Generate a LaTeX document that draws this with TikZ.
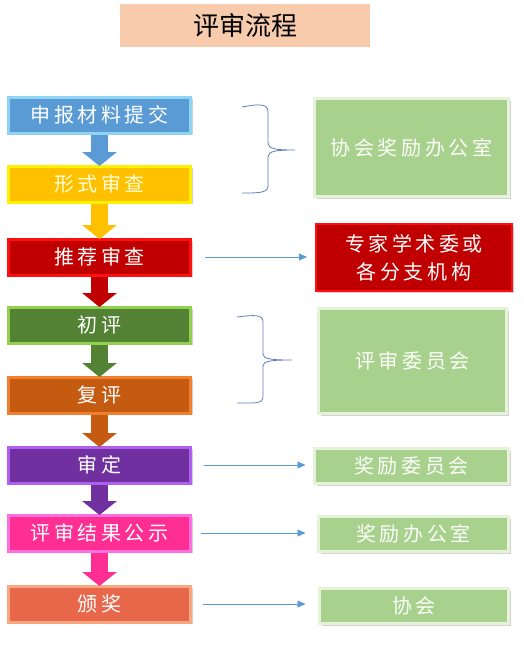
\documentclass[tikz,border=0pt]{standalone}
\usepackage{fontspec}
\newfontfamily\cjk{Noto Sans CJK SC}
\newfontfamily\cjksp{Noto Sans CJK SC}[LetterSpace=18]
\usetikzlibrary{arrows.meta,shadows,calc}
\definecolor{cTitle}{HTML}{F8CBAD}
\definecolor{cBlue}{HTML}{5B9BD5}\definecolor{cBlueB}{HTML}{8FD3F2}
\definecolor{cYel}{HTML}{FFC000}\definecolor{cYelB}{HTML}{FFF200}
\definecolor{cRed}{HTML}{C00000}\definecolor{cRedB}{HTML}{FF1010}
\definecolor{cGrn}{HTML}{548235}\definecolor{cGrnB}{HTML}{92D050}
\definecolor{cOra}{HTML}{C55A11}\definecolor{cOraB}{HTML}{F08030}
\definecolor{cPur}{HTML}{7030A0}\definecolor{cPurB}{HTML}{B060F0}
\definecolor{cPnk}{HTML}{FF2E93}\definecolor{cPnkB}{HTML}{FF70E0}
\definecolor{cCor}{HTML}{E8674A}\definecolor{cCorB}{HTML}{F8A880}
\definecolor{cLG}{HTML}{A9D18E}\definecolor{cLGB}{HTML}{E6F3DA}
\definecolor{cLine}{HTML}{5B9BD5}\definecolor{cBrace}{HTML}{5A7FB8}
\begin{document}
\begin{tikzpicture}[x=1pt,y=-1pt,
  lbox/.style 2 args={draw=#2, fill=#1, line width=3pt, minimum width=182pt, minimum height=36pt,
     inner sep=0pt, outer sep=0pt, text=white, font=\cjksp\fontsize{20}{22}\selectfont,
     drop shadow={shadow xshift=2pt, shadow yshift=-2pt, fill=black!35, opacity=0.5}},
  rbox/.style={draw=cLGB, fill=cLG, line width=3pt, inner sep=0pt, outer sep=0pt,
     text=white!95!cLG, font=\cjksp\fontsize{20}{22}\selectfont,
     drop shadow={shadow xshift=2pt, shadow yshift=-2pt, fill=black!35, opacity=0.5}},
  barrow/.style={draw=#1, line width=17pt, -{Triangle[width=34pt,length=14pt]}},
  conn/.style={draw=cLine, line width=0.8pt, -{Triangle[width=7pt,length=8pt]}},
  bracestyle/.style={draw=cBrace, line width=0.8pt}]
\useasboundingbox (0,0) rectangle (524,645);
% title
\node[fill=cTitle, minimum width=250pt, minimum height=43pt, inner sep=0pt,
  font=\cjk\fontsize{26}{30}\selectfont, text=black] (title) at (245,25.5) {评审流程};
% left boxes
\node[lbox={cBlue}{cBlueB}] (b1) at (99.5,115) {申报材料提交};
\node[lbox={cYel}{cYelB}, text=white!85!yellow] (b2) at (99.5,184) {形式审查};
\node[lbox={cRed}{cRedB}] (b3) at (99.5,257) {推荐审查};
\node[lbox={cGrn}{cGrnB}] (b4) at (99.5,325) {初评};
\node[lbox={cOra}{cOraB}] (b5) at (99.5,395) {复评};
\node[lbox={cPur}{cPurB}] (b6) at (99.5,465) {审定};
\node[lbox={cPnk}{cPnkB}] (b7) at (99.5,533) {评审结果公示};
\node[lbox={cCor}{cCorB}] (b8) at (99.5,604) {颁奖};
% block arrows
\draw[barrow=cBlue] ([yshift=-1.5pt]b1.south) -- (b2.north);
\draw[barrow=cYel] ([yshift=-1.5pt]b2.south) -- (b3.north);
\draw[barrow=cRed] ([yshift=-1.5pt]b3.south) -- (b4.north);
\draw[barrow=cGrn] ([yshift=-1.5pt]b4.south) -- (b5.north);
\draw[barrow=cOra] ([yshift=-1.5pt]b5.south) -- (b6.north);
\draw[barrow=cPur] ([yshift=-1.5pt]b6.south) -- (b7.north);
\draw[barrow=cPnk] ([yshift=-1.5pt]b7.south) -- (b8.north);
% right boxes
\node[rbox, minimum width=194pt, minimum height=98pt] (r1) at (411.5,147.5) {协会奖励办公室};
\node[draw=cRedB, fill=cRed, line width=2pt, minimum width=196pt, minimum height=67pt,
  inner sep=0pt, outer sep=0pt, text=white, align=center,
  font=\cjksp\fontsize{20}{28}\selectfont,
  drop shadow={shadow xshift=2pt, shadow yshift=-2pt, fill=black!35, opacity=0.5}] (r2) at (414,257.5) {专家学术委或\\各分支机构};
\node[rbox, minimum width=188pt, minimum height=105pt] (r3) at (412.5,361) {评审委员会};
\node[rbox, minimum width=194pt, minimum height=35pt] (r4) at (411.5,466) {奖励委员会};
\node[rbox, minimum width=190pt, minimum height=35pt] (r5) at (413.5,534) {奖励办公室};
\node[rbox, minimum width=189pt, minimum height=35pt] (r6) at (414,606) {协会};
% thin arrows
\draw[conn] ([xshift=14pt]b3.east) -- ($(b3.east -| r2.west)+(-9,0)$);
\draw[conn] ([xshift=13pt]b6.east) -- ($(b6.east -| r4.west)+(-9,0)$);
\draw[conn] ([xshift=10pt]b7.east) -- ($(b7.east -| r5.west)+(-13,0)$);
\draw[conn] ([xshift=12pt]b8.east) -- ($(b8.east -| r6.west)+(-14,0)$);
% braces
\draw[bracestyle] (242,107) .. controls (258,104) and (268,103) .. (268,112) -- (268,143)
  .. controls (268,149) and (276,150) .. (295,150)
  .. controls (276,150) and (268,151) .. (268,157) -- (268,186)
  .. controls (268,193) and (258,193) .. (242,193);
\draw[bracestyle] (237,317) .. controls (254,315) and (263,314) .. (263,322) -- (263,354)
  .. controls (263,359) and (271,360) .. (292,360)
  .. controls (271,360) and (263,361) .. (263,366) -- (263,397)
  .. controls (263,404) and (254,403) .. (237,403);
\end{tikzpicture}
\end{document}
